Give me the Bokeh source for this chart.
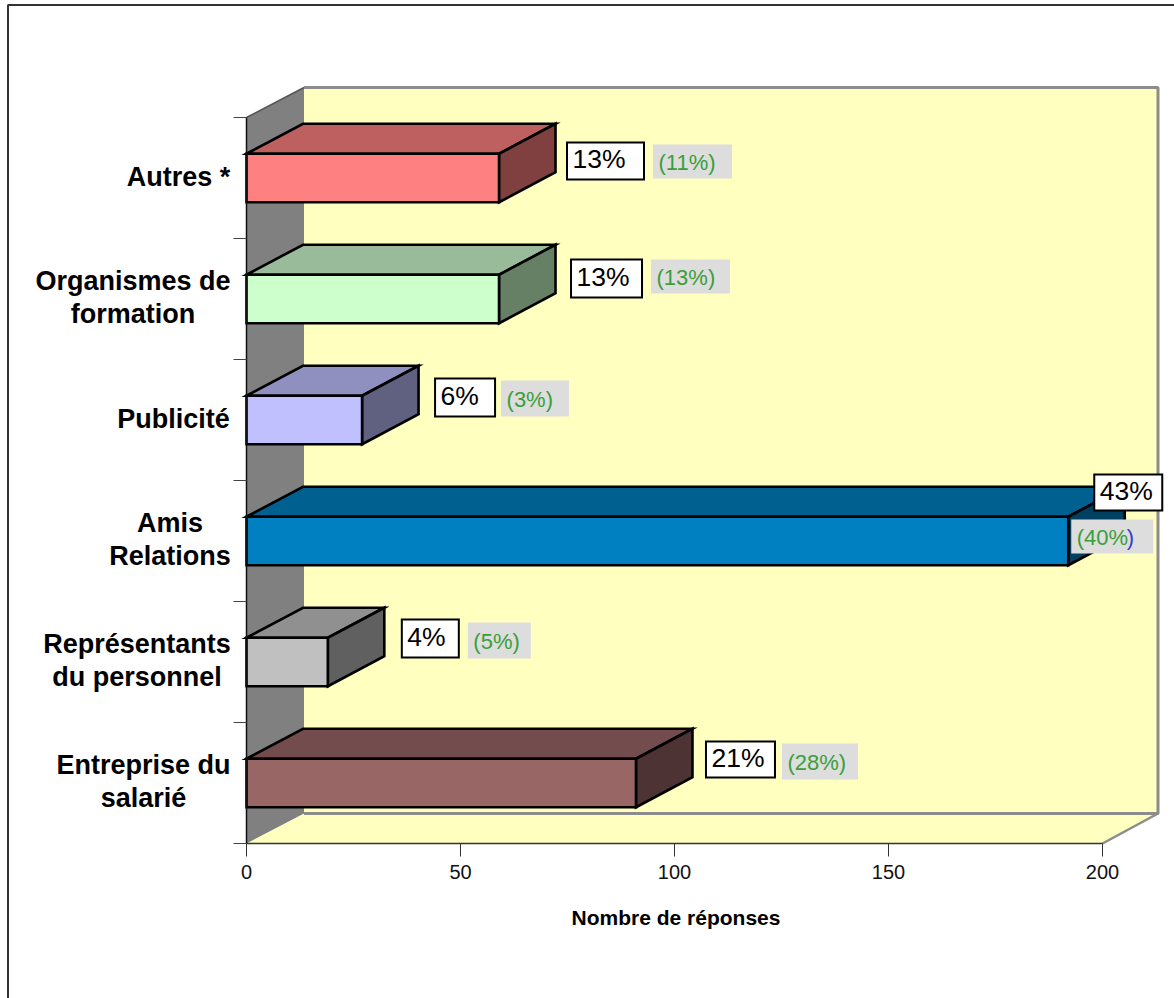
from bokeh.plotting import figure
from bokeh.models import FixedTicker, Range1d
from bokeh.core.properties import value
from bokeh.embed import file_html
from bokeh.resources import INLINE

# ---- data (bottom to top) ----
categories = ["Entreprise du\nsalarié", "Représentants\ndu personnel", "Amis\nRelations",
              "Publicité", "Organismes de\nformation", "Autres *"]
responses = [91, 19, 192, 27, 59, 59]
share_2 = ["21%", "4%", "43%", "6%", "13%", "13%"]
share_1 = ["(28%)", "(5%)", "(40%", "(3%)", "(13%)", "(11%)"]
x_ticks = [0, 50, 100, 150, 200]
x_title = "Nombre de réponses"

front = ["#996666", "#C0C0C0", "#0080C0", "#C0C0FF", "#CCFFCC", "#FF8080"]
top = ["#734D4D", "#909090", "#006090", "#9090C0", "#99BB99", "#BF6060"]
side = ["#4D3333", "#606060", "#004060", "#606080", "#668066", "#804040"]

# ---- layout: pixels ----
FIG_L, FIG_T, FIG_W, FIG_H = 0, 0, 1174, 998
X0, XPX = 246, 4.28     # page px of value 0, px per unit
Y0, YPX = 843, 121      # page px of band 0, px per band
DX, DY = 56.5 / XPX, 30 / YPX
WALL_DX = 57.5 / XPX
BACK_R = XPX and (1157.5 - X0) / XPX
BAR_H = 48.5 / YPX
YMAX = len(categories)
XMAX = x_ticks[-1]

def X(px):
    return (px - X0) / XPX

def Y(py):
    return (Y0 - py) / YPX

# label boxes, offsets in px from the bar's end and centre
w_dx = [70, 74, 26, 73, 72, 68]
w_w = [69, 57, 68, 60, 71, 77]
w_dy = [-41.5, -42.5, -66.5, -41.5, -39.5, -35.5]
w_h = [36, 38, 36, 38, 38, 37]
g_dx = [146, 140, 3, 139, 152, 154]
g_w = [76, 63, 82, 68, 79, 79]
g_dy = [-39.5, -39.5, -21.5, -39.5, -39.5, -33.5]
g_h = [36, 36, 34, 36, 34, 34]

FONT = value("Liberation Sans")
WALL = "#808080"
BACK = "#FFFFC0"
EDGE = "#8C8C8C"

p = figure(width=FIG_W, height=FIG_H, output_backend="svg", toolbar_location=None,
           x_range=Range1d(X(FIG_L), X(FIG_L + FIG_W)),
           y_range=Range1d(Y(FIG_T + FIG_H), Y(FIG_T)),
           min_border=0, min_border_left=0, min_border_right=0, min_border_top=0, min_border_bottom=0,
           background_fill_color="white",
           border_fill_color="white", outline_line_color=None)
p.grid.visible = False

# outer frame (top and left only)
p.line([X(1174), X(7.5), X(7.5)], [Y(4.5), Y(4.5), Y(998)], line_color="#333333", line_width=2)

# chart box
p.patch([WALL_DX, BACK_R, BACK_R, WALL_DX], [DY, DY, YMAX + DY, YMAX + DY], fill_color=BACK, line_color=None)
p.patch([0, WALL_DX, BACK_R, XMAX], [0, DY, DY, 0], fill_color=BACK, line_color=None)
p.patch([0, WALL_DX, WALL_DX, 0], [0, DY, YMAX + DY, YMAX], fill_color=WALL, line_color=None)
p.line([WALL_DX, BACK_R, BACK_R, WALL_DX], [YMAX + DY, YMAX + DY, DY, DY], line_color=EDGE, line_width=3)
p.line([XMAX, BACK_R], [0, DY], line_color=EDGE, line_width=2.5)
p.line([0, WALL_DX], [YMAX, YMAX + DY], line_color="#555555", line_width=1.5)

# axes
ax = p.xaxis[0]
ax.fixed_location = 0
ax.bounds = (0, XMAX)
ax.ticker = FixedTicker(ticks=x_ticks)
ax.axis_line_color = "#333333"
ax.axis_line_width = 1.5
ax.major_tick_line_color = "#333333"
ax.major_tick_in = 0
ax.major_tick_out = 13
ax.minor_tick_line_color = None
ax.major_label_text_font = "Liberation Sans"
ax.major_label_text_font_size = "20px"
ax.major_label_text_color = "#111111"
ax.major_label_standoff = 8

ay = p.yaxis[0]
ay.fixed_location = 0
ay.bounds = (0, YMAX)
ay.ticker = FixedTicker(ticks=list(range(YMAX + 1)))
ay.axis_line_color = "#111111"
ay.axis_line_width = 1.5
ay.major_tick_line_color = "#444444"
ay.major_tick_in = 0
ay.major_tick_out = 13
ay.minor_tick_line_color = None
ay.major_label_text_font_size = "0px"
ay.major_label_text_color = None

# bars
for i, v in enumerate(responses):
    c = i + 0.5
    b, t = c - BAR_H / 2, c + BAR_H / 2
    style = dict(line_color="#000000", line_width=2.6, line_join="miter")
    p.patch([0, DX, v + DX, v], [t, t + DY, t + DY, t], fill_color=top[i], **style)
    p.patch([v, v + DX, v + DX, v], [b, b + DY, t + DY, t], fill_color=side[i], **style)
    p.patch([0, v, v, 0], [b, b, t, t], fill_color=front[i], **style)

# category labels: block right aligned, lines centred inside it
BLOCK_RIGHT = 229
widths = [172, 185, 119, 112, 193, 102]
for i, name in enumerate(categories):
    lines = name.split("\n")
    cx = BLOCK_RIGHT - widths[i] / 2
    c_py = Y0 - (i + 0.5) * YPX
    offs = [-18, 15] if len(lines) == 2 else [-1]
    for ln, o in zip(lines, offs):
        p.text([X(cx)], [Y(c_py + o)], text=[ln], text_font=FONT, text_font_style="bold",
               text_font_size="27px", text_align="center", text_baseline="middle", text_color="#000000")

# value boxes
for i, v in enumerate(responses):
    ex = X0 + v * XPX
    cy = Y0 - (i + 0.5) * YPX
    l, tp = ex + g_dx[i], cy + g_dy[i]
    p.quad(left=[X(l)], right=[X(l + g_w[i])], top=[Y(tp)], bottom=[Y(tp + g_h[i])],
           fill_color="#DDDDDD", line_color=None)
    p.text([X(l + 5.5)], [Y(tp + g_h[i] / 2 + 0.5)], text=[share_1[i]], text_font=FONT, text_font_size="22px",
           text_align="left", text_baseline="middle", text_color="#3A9F3A")
    if share_1[i].count("(") != share_1[i].count(")"):
        p.text([X(l + 55.5)], [Y(tp + g_h[i] / 2 + 0.5)], text=[")"], text_font=FONT, text_font_size="22px",
               text_align="left", text_baseline="middle", text_color="#3A3AD0")
    l, tp = ex + w_dx[i], cy + w_dy[i]
    p.quad(left=[X(l)], right=[X(l + w_w[i])], top=[Y(tp)], bottom=[Y(tp + w_h[i])],
           fill_color="#FFFFFF", line_color="#000000", line_width=2, line_join="miter")
    p.text([X(l + 5.5)], [Y(tp + w_h[i] / 2 - 2)], text=[share_2[i]], text_font=FONT, text_font_size="26.5px",
           text_align="left", text_baseline="middle", text_color="#000000")

p.text([X(675.5)], [Y(917)], text=[x_title], text_font=FONT, text_font_style="bold", text_font_size="21px",
       text_align="center", text_baseline="middle", text_color="#000000")

open("out.html", "w").write(file_html(p, INLINE))
